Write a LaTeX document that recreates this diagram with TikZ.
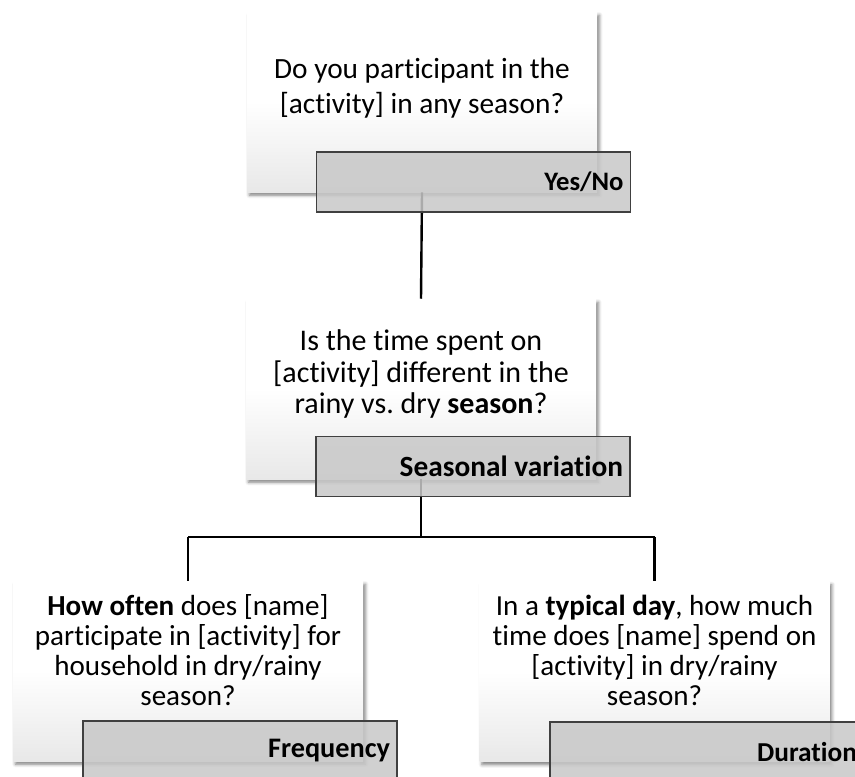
\documentclass[tikz,border=0pt]{standalone}
\usepackage{fontspec}
\setmainfont{Carlito}[Ligatures=NoCommon]
\usepackage{tikz}
\usetikzlibrary{calc,positioning,shadows.blur}
\definecolor{tagfill}{RGB}{200,200,200}
\definecolor{tagline}{RGB}{64,64,64}
\tikzset{
  qbox/.style={draw=none, top color=white, bottom color=black!9, middle color=white,
               minimum width=262.5pt, minimum height=135pt, inner sep=0pt,
               blur shadow={shadow xshift=1.8pt, shadow yshift=-2.4pt,
                            shadow blur radius=2.4pt, shadow opacity=50}},
  qtext/.style={align=center, inner sep=0pt},
  tagbox/.style={draw=tagline, line width=0.8pt, fill=tagfill, fill opacity=0.85,
                 text opacity=1, minimum width=235.5pt, minimum height=45pt,
                 inner xsep=5pt, text width=225pt, align=flush right, font=\bfseries},
  link/.style={line width=1.8pt, black},
}
\frenchspacing
\begin{document}
\begin{tikzpicture}[x=0.75pt,y=-0.75pt,line cap=butt]
  \useasboundingbox (0,0) rectangle (855,776);
  % ====== soru kutulari ======
  \node[qbox] (q1) at (422,102) {};
  \node[qtext,font=\fontsize{22}{26.25}\selectfont] (q1t) at (422,88)
    {Do you participant in the\\ {[activity]} in any season?};
  \node[qbox] (q2) at (421,389) {};
  \node[qtext,font=\fontsize{22.5}{23.5}\selectfont] (q2t) at (421,374)
    {Is the time spent on\\ {[activity]} different in the\\ rainy vs. dry \textbf{season}?};
  \node[qbox] (q3) at (188,671) {};
  \node[qtext,font=\fontsize{21.8}{22.5}\selectfont] (q3t) at (188,650)
    {\textbf{How often} does [name]\\ participate in [activity] for\\ household in dry/rainy\\ season?};
  \node[qbox] (q4) at (654.5,671.5) {};
  \node[qtext,font=\fontsize{21.8}{22.5}\selectfont] (q4t) at (654.5,650)
    {In a \textbf{typical day}, how much\\ time does [name] spend on\\ {[activity]} in dry/rainy\\ season?};
  % ====== baglantilar ======
  \coordinate (split) at ($(q2.south)+(0,58)$);
  \draw[link] (q1.south) -- (q2.north);
  \draw[link] (q2.south) -- (split);
  \draw[link] (split -| q3.north) -- (split -| q4.north);
  \draw[link] (split -| q3.north) -- (q3.north);
  \draw[link] (split -| q4.north) -- (q4.north);
  % ====== etiketler ======
  \node[tagbox,font=\bfseries\fontsize{20}{22}\selectfont] (t1) at (473.5,182) {Yes/No};
  \node[tagbox,font=\bfseries\fontsize{22}{24}\selectfont] (t2) at (473,466.5) {Seasonal variation};
  \node[tagbox,font=\bfseries\fontsize{21.2}{22}\selectfont] (t3) at (240,751) {Frequency};
  \node[tagbox,font=\bfseries\fontsize{20.5}{22}\selectfont] (t4) at (707,752) {Duration};
\end{tikzpicture}
\end{document}
